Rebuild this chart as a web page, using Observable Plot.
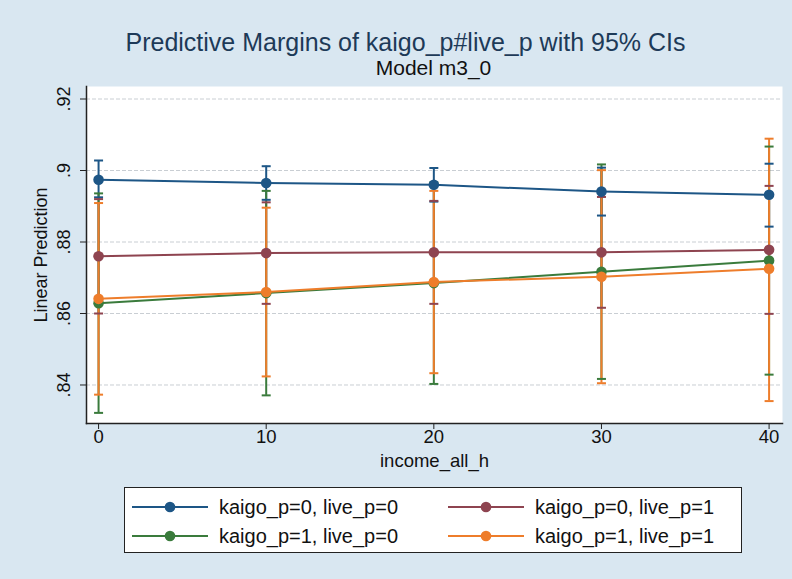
<!DOCTYPE html>
<html><head><meta charset="utf-8">
<script src="https://cdn.jsdelivr.net/npm/d3@7"></script>
<script src="https://cdn.jsdelivr.net/npm/@observablehq/plot@0.6"></script>
<style>
body{margin:0;background:#d9e7f1;font-family:"Liberation Sans",Arial,sans-serif;}
#wrap{position:relative;width:792px;height:579px;overflow:hidden;background:#d9e7f1;}
#chart{position:absolute;left:0;top:0;}
#legend{position:absolute;left:124px;top:487px;width:616px;height:64px;background:#fff;border:1.5px solid #222;}
.item{position:absolute;display:flex;align-items:center;font-size:20px;color:#111;height:28px;}
.item svg{margin-right:10px;}
</style></head><body><div id="wrap"><div id="chart"></div><div id="legend"></div></div>
<script>
const xValues = [0, 10, 20, 30, 40];
const seriesNames = ["kaigo_p=0, live_p=0", "kaigo_p=0, live_p=1", "kaigo_p=1, live_p=0", "kaigo_p=1, live_p=1"];
const seriesColors = ["#1d5686", "#8e4450", "#3a7b3c", "#ee7d2b"];

const est00 = [0.8974, 0.8965, 0.8960, 0.8941, 0.8932];
const lo00  = [0.8925, 0.8918, 0.8913, 0.8874, 0.8843];
const hi00  = [0.9028, 0.9012, 0.9007, 0.9008, 0.9019];

const est01 = [0.8760, 0.8769, 0.8771, 0.8771, 0.8778];
const lo01  = [0.8600, 0.8627, 0.8627, 0.8616, 0.8599];
const hi01  = [0.8920, 0.8911, 0.8915, 0.8926, 0.8957];

const est10 = [0.8629, 0.8657, 0.8685, 0.8717, 0.8748];
const lo10  = [0.8322, 0.8371, 0.8403, 0.8417, 0.8429];
const hi10  = [0.8936, 0.8943, 0.8967, 0.9017, 0.9067];

const est11 = [0.8641, 0.8660, 0.8688, 0.8703, 0.8725];
const lo11  = [0.8373, 0.8424, 0.8433, 0.8405, 0.8355];
const hi11  = [0.8909, 0.8896, 0.8943, 0.9001, 0.9089];

const yTicks = [0.84, 0.86, 0.88, 0.9, 0.92];
const yTickLabels = [".84", ".86", ".88", ".9", ".92"];
const xTicks = [0, 10, 20, 30, 40];
const xTickLabels = ["0", "10", "20", "30", "40"];

const titleText = "Predictive Margins of kaigo_p#live_p with 95% CIs";
const subtitleText = "Model m3_0";
const yLabel = "Linear Prediction";
const xLabel = "income_all_h";

const seriesData = [[est00, lo00, hi00], [est01, lo01, hi01], [est10, lo10, hi10], [est11, lo11, hi11]];
const rows = [];
seriesData.forEach(([e, l, h], s) => xValues.forEach((x, i) => rows.push({series: seriesNames[s], x, est: e[i], lo: l[i], hi: h[i]})));

const cap = {draw(ctx, size) { const w = Math.sqrt(size / Math.PI); ctx.moveTo(-w, 0); ctx.lineTo(w, 0); }};
const font = "Liberation Sans, Arial, sans-serif";

const seriesMarks = seriesNames.flatMap((name) => {
  const d = rows.filter(r => r.series === name);
  return [
    Plot.line(d, {x: "x", y: "est", stroke: "series", strokeWidth: 2}),
    Plot.dot(d, {x: "x", y: "est", fill: "series", r: 5.3, stroke: "none"})
  ];
});

const chart = Plot.plot({
  width: 792, height: 579,
  marginLeft: 86, marginRight: 10, marginTop: 86, marginBottom: 156,
  style: {background: "transparent", fontFamily: font, fontSize: "18px", color: "#111", overflow: "visible"},
  x: {domain: [-0.72, 40.8]},
  y: {domain: [0.82923, 0.92350]},
  color: {domain: seriesNames, range: seriesColors},
  marks: [
    Plot.frame({fill: "white", stroke: "none"}),
    Plot.gridY(yTicks, {stroke: "#c9ced3", strokeOpacity: 1, strokeWidth: 1, strokeDasharray: "4,2"}),
    Plot.ruleX(rows, {x: "x", y1: "lo", y2: "hi", stroke: "series", strokeWidth: 2}),
    Plot.dot(rows, {x: "x", y: "lo", symbol: cap, r: 4.5, fill: "none", stroke: "series", strokeWidth: 2}),
    Plot.dot(rows, {x: "x", y: "hi", symbol: cap, r: 4.5, fill: "none", stroke: "series", strokeWidth: 2}),
    ...seriesMarks,
    Plot.frame({anchor: "left", stroke: "#222", strokeWidth: 1.5}),
    Plot.frame({anchor: "bottom", stroke: "#222", strokeWidth: 1.5}),
    Plot.axisY(yTicks, {tickSize: 6, tickFormat: () => "", label: null, stroke: "#222"}),
    Plot.axisX(xTicks, {tickSize: 6, tickFormat: () => "", label: null, stroke: "#222"}),
    Plot.text(yTicks, {y: d => d, text: (d, i) => yTickLabels[i], frameAnchor: "left", textAnchor: "middle", dx: -22, rotate: -90, fontSize: 18, fill: "#111"}),
    Plot.text(xTicks, {x: d => d, text: (d, i) => xTickLabels[i], frameAnchor: "bottom", dy: 19, fontSize: 18.5, fill: "#111"}),
    Plot.text([yLabel], {frameAnchor: "left", textAnchor: "middle", dx: -45, rotate: -90, fontSize: 18, fill: "#111"}),
    Plot.text([xLabel], {frameAnchor: "bottom", dy: 43, fontSize: 18.5, fill: "#111"}),
    Plot.text([titleText], {frameAnchor: "top", dx: -29, dy: -53, fontSize: 25, fill: "#1d3a58"}),
    Plot.text([subtitleText], {frameAnchor: "top", dx: -1, dy: -26, fontSize: 21, fill: "#111"})
  ]
});
document.getElementById("chart").appendChild(chart);

const legend = document.getElementById("legend");
const pos = [[6, 5], [322, 5], [6, 34], [322, 34]];
seriesNames.forEach((name, i) => {
  const div = document.createElement("div");
  div.className = "item";
  div.style.left = pos[i][0] + "px";
  div.style.top = pos[i][1] + "px";
  const c = seriesColors[i];
  div.innerHTML = `<svg width="78" height="14"><line x1="1" x2="77" y1="7" y2="7" stroke="${c}" stroke-width="2"/><circle cx="39" cy="7" r="5.3" fill="${c}"/></svg><span>${name}</span>`;
  legend.appendChild(div);
});
</script></body></html>
